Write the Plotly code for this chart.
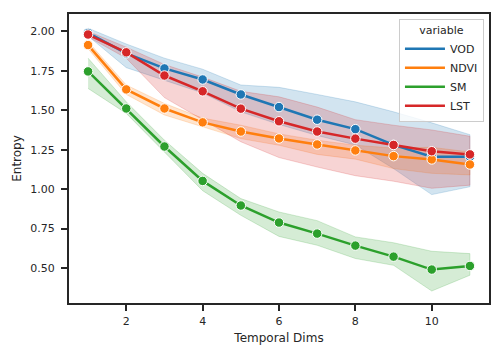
import plotly.graph_objects as go

x = [1, 2, 3, 4, 5, 6, 7, 8, 9, 10, 11]

vod = [1.99, 1.86, 1.765, 1.695, 1.60, 1.52, 1.44, 1.38, 1.28, 1.205, 1.205]
vod_lo = [1.97, 1.77, 1.69, 1.61, 1.49, 1.41, 1.34, 1.28, 1.13, 0.965, 1.015]
vod_hi = [2.02, 1.92, 1.83, 1.76, 1.66, 1.645, 1.60, 1.553, 1.49, 1.42, 1.345]

ndvi = [1.913, 1.632, 1.511, 1.423, 1.365, 1.321, 1.283, 1.245, 1.209, 1.188, 1.156]
ndvi_lo = [1.89, 1.60, 1.47, 1.395, 1.32, 1.278, 1.22, 1.19, 1.13, 1.10, 1.09]
ndvi_hi = [1.935, 1.66, 1.543, 1.45, 1.405, 1.35, 1.31, 1.278, 1.26, 1.265, 1.235]

sm = [1.746, 1.511, 1.27, 1.052, 0.896, 0.788, 0.718, 0.642, 0.572, 0.49, 0.513]
sm_lo = [1.638, 1.48, 1.236, 0.99, 0.834, 0.70, 0.644, 0.56, 0.517, 0.354, 0.454]
sm_hi = [1.83, 1.553, 1.31, 1.10, 0.94, 0.855, 0.80, 0.697, 0.66, 0.606, 0.591]

lst = [1.98, 1.867, 1.72, 1.62, 1.51, 1.43, 1.365, 1.32, 1.28, 1.24, 1.22]
lst_lo = [1.965, 1.83, 1.58, 1.44, 1.30, 1.20, 1.14, 1.085, 1.05, 1.005, 1.025]
lst_hi = [2.00, 1.90, 1.79, 1.71, 1.62, 1.585, 1.52, 1.44, 1.405, 1.375, 1.335]

names = ["VOD", "NDVI", "SM", "LST"]
colors = ["#1f77b4", "#ff7f0e", "#2ca02c", "#d62728"]
series = [(vod, vod_lo, vod_hi), (ndvi, ndvi_lo, ndvi_hi), (sm, sm_lo, sm_hi), (lst, lst_lo, lst_hi)]

x_ticks = [2, 4, 6, 8, 10]
y_ticks = [0.50, 0.75, 1.00, 1.25, 1.50, 1.75, 2.00]


def rgba(h, a):
    h = h.lstrip("#")
    r, g, b = int(h[0:2], 16), int(h[2:4], 16), int(h[4:6], 16)
    return f"rgba({r},{g},{b},{a})"


fig = go.Figure()
# confidence bands (drawn beneath all lines, like matplotlib zorder)
for name, c, (m, lo, hi) in zip(names, colors, series):
    fig.add_trace(go.Scatter(
        x=x + x[::-1], y=hi + lo[::-1], fill="toself", mode="lines",
        fillcolor=rgba(c, 0.2), line=dict(color=rgba(c, 0.2), width=1),
        hoverinfo="skip", showlegend=False))
# mean lines with markers
for name, c, (m, lo, hi) in zip(names, colors, series):
    fig.add_trace(go.Scatter(
        x=x, y=m, mode="lines+markers", name=name, showlegend=False,
        line=dict(color=c, width=2.5),
        marker=dict(size=9.5, color=c, line=dict(color="white", width=1))))
# legend entries (line only)
for name, c in zip(names, colors):
    fig.add_trace(go.Scatter(x=[None], y=[None], mode="lines", name=name,
                             line=dict(color=c, width=2.5), showlegend=True))

axis_common = dict(
    showline=True, linewidth=2, linecolor="#262626", mirror=True,
    ticks="outside", ticklen=6, tickwidth=1.8, tickcolor="#262626",
    showgrid=False, zeroline=False, automargin=False,
    tickfont=dict(size=11, color="#262626"),
)

# page body has an 8px default margin, so the figure is sized to fill 504x360
fig.update_layout(
    width=496, height=352,
    margin=dict(l=61, r=15, t=6, b=57),
    paper_bgcolor="white", plot_bgcolor="white",
    font=dict(family="DejaVu Sans", color="#262626", size=11),
    xaxis=dict(range=[0.5, 11.5], tickvals=x_ticks, ticktext=[str(v) for v in x_ticks],
               ticklabelstandoff=1,
               title=dict(text="Temporal Dims", font=dict(size=12), standoff=6), **axis_common),
    yaxis=dict(range=[0.278, 2.11], tickvals=y_ticks, ticktext=[f"{v:.2f}" for v in y_ticks],
               ticklabelstandoff=4,
               title=dict(text="Entropy", font=dict(size=12), standoff=6), **axis_common),
    legend=dict(
        x=0.988, y=0.983, xanchor="right", yanchor="top",
        bgcolor="rgba(255,255,255,0.8)", bordercolor="#cccccc", borderwidth=1,
        font=dict(size=11, color="#262626"),
        title=dict(text="variable", side="top center", font=dict(size=11)),
        tracegroupgap=0, itemwidth=40,
    ),
)

fig.write_html("out.html")
